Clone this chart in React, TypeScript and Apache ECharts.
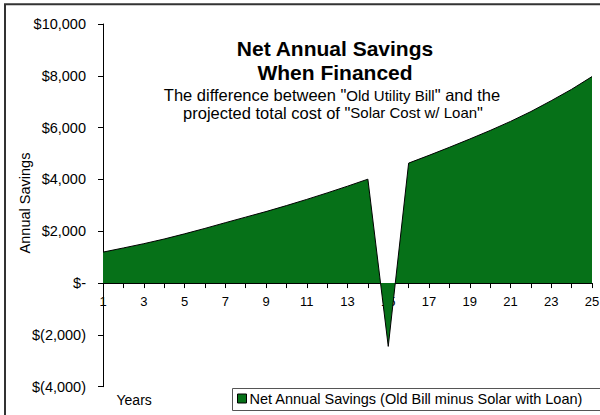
import React, { useEffect, useRef } from "react";
import * as echarts from "echarts";

const years: string[] = [
  "1", "2", "3", "4", "5", "6", "7", "8", "9", "10", "11", "12", "13",
  "14", "15", "16", "17", "18", "19", "20", "21", "22", "23", "24", "25",
];
const netSavings: number[] = [
  1195, 1355, 1520, 1700, 1900, 2110, 2330, 2545, 2760, 2990, 3230, 3480, 3740,
  4010, -2445, 4630, 4930, 5240, 5560, 5890, 6240, 6620, 7040, 7480, 7970,
];
const seriesName = "Net Annual Savings (Old Bill minus Solar with Loan)";
const titleLines: string[] = ["Net Annual Savings", "When Financed"];
const yMin = -4000;
const yMax = 10000;
const yStep = 2000;

const FONT = "'Liberation Sans', Arial, sans-serif";
const GREEN = "#067118";
const GRID_TOP = 24;
const GRID_BOTTOM = 28.3;
const CHART_H = 415;

function fmtMoney(v: number): string {
  if (v === 0) return "$-";
  const s = Math.abs(v).toLocaleString("en-US");
  return v < 0 ? `$(${s})` : `$${s}`;
}

export default function App() {
  const ref = useRef<HTMLDivElement>(null);
  useEffect(() => {
    if (!ref.current) return;
    const chart = echarts.init(ref.current, null, { renderer: "svg" });
    const plotH = CHART_H - GRID_TOP - GRID_BOTTOM;
    const zeroOffset = ((0 - yMin) / (yMax - yMin)) * plotH;
    chart.setOption({
      animation: false,
      backgroundColor: "#ffffff",
      grid: {
        left: 103,
        right: 8,
        top: GRID_TOP,
        bottom: GRID_BOTTOM,
        containLabel: false,
        outerBoundsMode: "none",
      },
      xAxis: {
        type: "category",
        data: years,
        boundaryGap: false,
        position: "bottom",
        offset: -zeroOffset,
        axisLine: { show: true, onZero: false, lineStyle: { color: "#000", width: 1 } },
        axisTick: { show: true, interval: 0, length: 5, lineStyle: { color: "#000" } },
        axisLabel: {
          interval: 1,
          margin: 12,
          color: "#000",
          fontFamily: FONT,
          fontSize: 13,
        },
        splitLine: { show: false },
      },
      yAxis: {
        type: "value",
        min: yMin,
        max: yMax,
        interval: yStep,
        axisLine: { show: true, lineStyle: { color: "#000", width: 1 } },
        axisTick: { show: true, length: 5, lineStyle: { color: "#000" } },
        axisLabel: {
          margin: 17,
          color: "#000",
          fontFamily: FONT,
          fontSize: 14.5,
          formatter: (v: number) => fmtMoney(v),
        },
        splitLine: { show: false },
      },
      legend: {
        show: true,
        left: 237,
        top: 391,
        padding: 0,
        itemWidth: 9,
        itemHeight: 9,
        icon: "rect",
        itemStyle: { color: GREEN, borderColor: "#000", borderWidth: 1 },
        textStyle: { color: "#000", fontFamily: FONT, fontSize: 14.5, padding: [0, 0, 0, -2] },
        data: [seriesName],
      },
      series: [
        {
          name: seriesName,
          type: "line",
          data: netSavings,
          symbol: "none",
          itemStyle: { color: GREEN },
          lineStyle: { color: "#000", width: 1 },
          areaStyle: { color: GREEN, opacity: 1 },
          z: 1,
        },
      ],
      graphic: [
        {
          type: "rect",
          shape: { x: 5, y: 4.3, width: 700, height: 500 },
          style: { fill: "none", stroke: "#333", lineWidth: 2 },
          silent: true,
        },
        {
          type: "rect",
          shape: { x: 232.5, y: 388.5, width: 400, height: 22 },
          style: { fill: "none", stroke: "#555", lineWidth: 1 },
          silent: true,
        },
        {
          type: "text",
          x: 335,
          y: 48.3,
          style: {
            text: titleLines[0],
            font: `bold 21px ${FONT}`,
            fill: "#000",
            align: "center",
            verticalAlign: "middle",
            textAlign: "center",
            textVerticalAlign: "middle",
          },
        },
        {
          type: "text",
          x: 335,
          y: 72.7,
          style: {
            text: titleLines[1],
            font: `bold 21px ${FONT}`,
            fill: "#000",
            align: "center",
            verticalAlign: "middle",
            textAlign: "center",
            textVerticalAlign: "middle",
          },
        },
        {
          type: "text",
          x: 332,
          y: 95,
          style: {
            text: '{a|The difference between "}{b|Old Utility Bill}{a|" and the}',
            fill: "#000",
            align: "center",
            verticalAlign: "middle",
            textAlign: "center",
            textVerticalAlign: "middle",
            rich: {
              a: { fontFamily: FONT, fontSize: 16.5, fill: "#000", color: "#000" },
              b: { fontFamily: FONT, fontSize: 15, fill: "#000", color: "#000" },
            },
          },
        },
        {
          type: "text",
          x: 333,
          y: 112.7,
          style: {
            text: '{a|projected total cost of "}{b|Solar Cost w/ Loan}{a|"}',
            fill: "#000",
            align: "center",
            verticalAlign: "middle",
            textAlign: "center",
            textVerticalAlign: "middle",
            rich: {
              a: { fontFamily: FONT, fontSize: 16.5, fill: "#000", color: "#000" },
              b: { fontFamily: FONT, fontSize: 15, fill: "#000", color: "#000" },
            },
          },
        },
        {
          type: "text",
          x: 25,
          y: 203,
          rotation: Math.PI / 2,
          style: {
            text: "Annual Savings",
            font: `14.5px ${FONT}`,
            fill: "#000",
            align: "center",
            verticalAlign: "middle",
            textAlign: "center",
            textVerticalAlign: "middle",
          },
        },
        {
          type: "text",
          x: 116.5,
          y: 400,
          style: {
            text: "Years",
            font: `14px ${FONT}`,
            fill: "#000",
            align: "left",
            verticalAlign: "middle",
            textAlign: "left",
            textVerticalAlign: "middle",
          },
        },
      ],
    });
    return () => chart.dispose();
  }, []);
  return (
    <div
      ref={ref}
      style={{ position: "fixed", left: 0, top: 0, width: 600, height: 415 }}
    />
  );
}
